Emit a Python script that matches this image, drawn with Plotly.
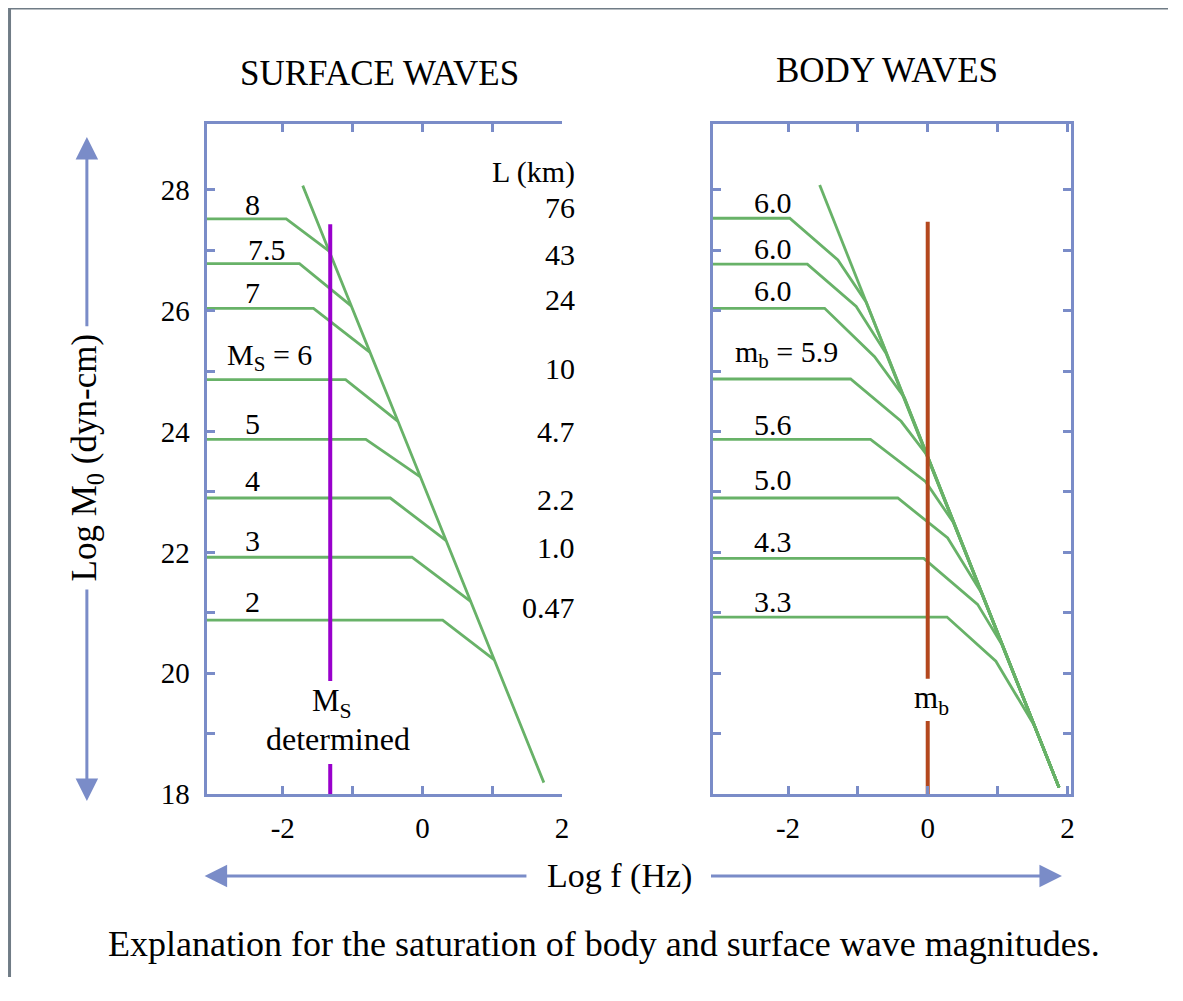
import plotly.graph_objects as go

# ---------------- data ----------------
# Surface waves panel (left)
surface_levels = [27.52, 26.78, 26.04, 24.86, 23.87, 22.90, 21.92, 20.88]
surface_kink_x = [-1.95, -1.76, -1.56, -1.10, -0.81, -0.46, -0.15, 0.29]
surface_corner_x = [-1.34, -1.02, -0.75, -0.35, -0.03, 0.335, 0.69, 1.03]
surface_corner_y = [26.99, 26.08, 25.31, 24.17, 23.25, 22.20, 21.19, 20.22]
surface_main_top = (-1.714, 28.07)
surface_main_end = (1.739, 18.19)
surface_labels = ["8", "7.5", "7", "M<sub>S</sub> = 6", "5", "4", "3", "2"]
surface_label_x = [-2.43, -2.22, -2.43, -2.19, -2.43, -2.43, -2.43, -2.43]
surface_label_y = [27.76, 27.01, 26.30, 25.24, 24.14, 23.19, 22.19, 21.18]
L_km = ["L (km)", "76", "43", "24", "10", "4.7", "2.2", "1.0", "0.47"]
L_km_y = [28.30, 27.70, 26.93, 26.19, 25.05, 24.00, 22.88, 22.08, 21.09]
ms_line_x = -1.32
ms_line_upper = (27.43, 19.87)
ms_line_lower = (18.50, 18.0)

# Body waves panel (right)
body_levels = [27.53, 26.77, 26.04, 24.87, 23.87, 22.90, 21.90, 20.93]
body_kink1_x = [-1.976, -1.724, -1.476, -1.104, -0.819, -0.429, -0.057, 0.276]
body_kink2_x = [-1.286, -1.024, -0.761, -0.381, -0.03, 0.286, 0.714, 0.976]
body_kink2_y = [26.84, 26.07, 25.24, 24.17, 23.17, 22.24, 21.14, 20.20]
body_merge_x = [-0.881, -0.596, -0.333, -0.01, 0.37, 0.78, 1.06, 1.524]
body_merge_y = [26.14, 25.29, 24.56, 23.61, 22.49, 21.31, 20.48, 19.14]
body_main_top = (-1.547, 28.08)
body_main_end = (1.88, 18.11)
body_labels = ["6.0", "6.0", "6.0", "m<sub>b</sub> = 5.9", "5.6", "5.0", "4.3", "3.3"]
body_label_x = [-2.21, -2.21, -2.21, -2.02, -2.21, -2.21, -2.21, -2.21]
body_label_y = [27.79, 27.03, 26.33, 25.28, 24.12, 23.21, 22.18, 21.19]
mb_line_x = 0.0
mb_line_upper = (27.47, 19.91)
mb_line_lower = (19.21, 18.0)

x_tickvals = [-2, -1, 0, 1, 2]
x_ticktext = ["-2", "", "0", "", "2"]
y_tickvals = list(range(18, 29))
y_ticktext = [str(v) if v % 2 == 0 else "" for v in y_tickvals]

# ---------------- style ----------------
OFF = 8  # page body margin
W, H = 1183 - 2 * OFF, 1001 - 2 * OFF
SX, SY = 0.996, 0.985  # photo scaling observed for the page
GREEN = "rgb(104,178,104)"
FRAME = "rgb(122,140,200)"
PURPLE = "rgb(153,0,204)"
RUST = "rgb(180,72,30)"
FONT = "Liberation Serif, Times New Roman, serif"
LW = 2.8


def px(xpix):
    return (xpix / SX - OFF) / W


def py(ypix):
    return 1 - (ypix / SY - OFF) / H


fig = go.Figure()

# left panel curves
for lev, kx, cx, cy in zip(surface_levels, surface_kink_x, surface_corner_x, surface_corner_y):
    fig.add_trace(go.Scatter(x=[-3.09, kx, cx], y=[lev, lev, cy], mode="lines",
                             line=dict(color=GREEN, width=LW), xaxis="x", yaxis="y",
                             showlegend=False, hoverinfo="skip"))
fig.add_trace(go.Scatter(x=[surface_main_top[0]] + surface_corner_x + [surface_main_end[0]],
                         y=[surface_main_top[1]] + surface_corner_y + [surface_main_end[1]],
                         mode="lines", line=dict(color=GREEN, width=LW), xaxis="x", yaxis="y",
                         showlegend=False, hoverinfo="skip"))
fig.add_trace(go.Scatter(x=[ms_line_x, ms_line_x, None, ms_line_x, ms_line_x],
                         y=[ms_line_upper[0], ms_line_upper[1], None, ms_line_lower[0], ms_line_lower[1]],
                         mode="lines", line=dict(color=PURPLE, width=4), xaxis="x", yaxis="y",
                         showlegend=False, hoverinfo="skip", cliponaxis=False))

# right panel curves
for lev, k1, k2x, k2y, mx, my in zip(body_levels, body_kink1_x, body_kink2_x, body_kink2_y,
                                     body_merge_x, body_merge_y):
    fig.add_trace(go.Scatter(x=[-3.08, k1, k2x, mx, body_main_end[0]],
                             y=[lev, lev, k2y, my, body_main_end[1]], mode="lines",
                             line=dict(color=GREEN, width=LW), xaxis="x2", yaxis="y2",
                             showlegend=False, hoverinfo="skip"))
fig.add_trace(go.Scatter(x=[body_main_top[0], body_main_end[0]],
                         y=[body_main_top[1], body_main_end[1]],
                         mode="lines", line=dict(color=GREEN, width=LW), xaxis="x2", yaxis="y2",
                         showlegend=False, hoverinfo="skip"))
fig.add_trace(go.Scatter(x=[mb_line_x, mb_line_x, None, mb_line_x, mb_line_x],
                         y=[mb_line_upper[0], mb_line_upper[1], None, mb_line_lower[0], mb_line_lower[1]],
                         mode="lines", line=dict(color=RUST, width=4), xaxis="x2", yaxis="y2",
                         showlegend=False, hoverinfo="skip", cliponaxis=False))


def txt(size):
    return dict(size=size, family=FONT, color="black")


# y position of the left panel in page pixels, for labels beyond the x range
def y_page(v):
    return 795 - (v - 18) * (795 - 124) / (29.09 - 18)


ann = []
for t, x, y in zip(surface_labels, surface_label_x, surface_label_y):
    ann.append(dict(text=t, x=x, y=y, xref="x", yref="y", showarrow=False,
                    xanchor="center", yanchor="middle", font=txt(30)))
for t, y in zip(L_km, L_km_y):
    ann.append(dict(text=t, x=px(578), y=py(y_page(y)), xref="paper", yref="paper",
                    xanchor="right", yanchor="middle", showarrow=False, font=txt(30)))
ann.append(dict(text="M<sub>S</sub>", x=-1.29, y=19.50, xref="x", yref="y", showarrow=False,
                xanchor="center", yanchor="middle", font=txt(31)))
ann.append(dict(text="determined", x=-1.21, y=18.92, xref="x", yref="y", showarrow=False,
                xanchor="center", yanchor="middle", font=txt(32)))
for t, x, y in zip(body_labels, body_label_x, body_label_y):
    ann.append(dict(text=t, x=x, y=y, xref="x2", yref="y2", showarrow=False,
                    xanchor="center", yanchor="middle", font=txt(30)))
ann.append(dict(text="m<sub>b</sub>", x=0.05, y=19.56, xref="x2", yref="y2", showarrow=False,
                xanchor="center", yanchor="middle", font=txt(31)))

# titles / captions
ann.append(dict(text="SURFACE WAVES", x=px(380), y=py(73), xref="paper", yref="paper",
                xanchor="center", yanchor="middle", showarrow=False, font=txt(35)))
ann.append(dict(text="BODY WAVES", x=px(889), y=py(70), xref="paper", yref="paper",
                xanchor="center", yanchor="middle", showarrow=False, font=txt(35)))
ann.append(dict(text="Log f (Hz)", x=px(621), y=py(877), xref="paper", yref="paper",
                xanchor="center", yanchor="middle", showarrow=False, font=txt(34)))
ann.append(dict(text="Log M<sub>0</sub> (dyn-cm)", x=px(87), y=py(458), xref="paper", yref="paper",
                xanchor="center", yanchor="middle", showarrow=False, textangle=-90, font=txt(35)))
ann.append(dict(text="Explanation for the saturation of body and surface wave magnitudes.",
                x=px(605), y=py(945), xref="paper", yref="paper",
                xanchor="center", yanchor="middle", showarrow=False, font=txt(36)))

# arrows (tip, tail) in page pixels
for tip, tail in [((87, 137), (87, 325)), ((87, 802), (87, 592)),
                  ((205, 877), (527, 877)), ((1064, 877), (713, 877))]:
    ann.append(dict(text="", x=px(tip[0]), y=py(tip[1]), xref="paper", yref="paper",
                    ax=(tail[0] - tip[0]) / SX, ay=(tail[1] - tip[1]) / SY,
                    axref="pixel", ayref="pixel",
                    showarrow=True, arrowhead=2, arrowsize=1.5, arrowwidth=3,
                    arrowcolor=FRAME, standoff=0, startstandoff=0))

shapes = [
    dict(type="line", xref="paper", yref="paper", x0=px(9.5), x1=1.0, y0=py(8), y1=py(8),
         line=dict(color="rgb(112,124,134)", width=3)),
    dict(type="line", xref="paper", yref="paper", x0=px(9.5), x1=px(9.5), y0=py(8), y1=0,
         line=dict(color="rgb(112,124,134)", width=3)),
]

axis_common = dict(showline=True, linecolor=FRAME, linewidth=3, ticks="inside",
                   tickcolor=FRAME, tickwidth=3, ticklen=8, showgrid=False, zeroline=False,
                   tickfont=txt(29))

fig.update_layout(
    width=W, height=H, margin=dict(l=0, r=0, t=0, b=0),
    paper_bgcolor="white", plot_bgcolor="white",
    xaxis=dict(domain=[px(207), px(563.5)], range=[-3.09, 2.005], anchor="y",
               tickvals=x_tickvals, ticktext=x_ticktext, mirror="ticks", ticklabelstandoff=6,
               **axis_common),
    yaxis=dict(domain=[py(795), py(124)], range=[18, 29.09], anchor="x",
               tickvals=y_tickvals, ticktext=y_ticktext, mirror=False, ticklabelstandoff=8,
               **axis_common),
    xaxis2=dict(domain=[px(714), px(1073)], range=[-3.08, 2.05], anchor="y2",
                tickvals=x_tickvals, ticktext=x_ticktext, mirror="ticks", ticklabelstandoff=6,
                **axis_common),
    yaxis2=dict(domain=[py(795), py(124)], range=[18, 29.09], anchor="x2",
                tickvals=y_tickvals, ticktext=y_ticktext, mirror="ticks", showticklabels=False,
                **axis_common),
    annotations=ann, shapes=shapes,
)

fig.write_html("out.html")
